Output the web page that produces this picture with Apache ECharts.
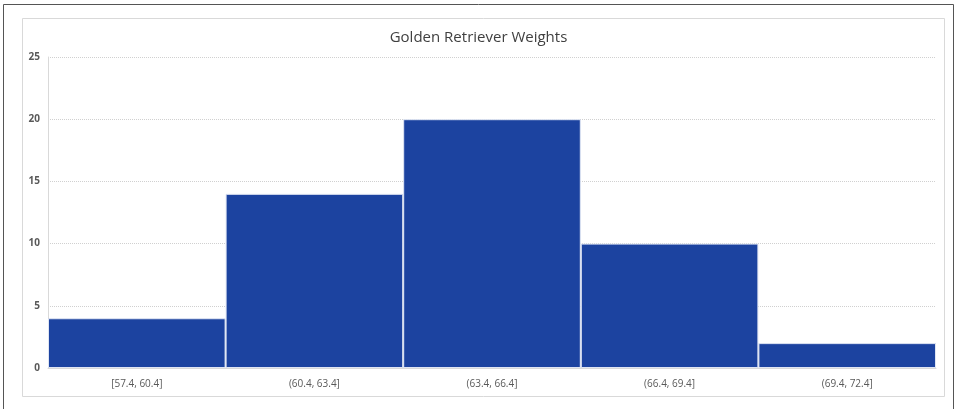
<!DOCTYPE html>
<html>
<head>
<meta charset="utf-8">
<script src="https://cdn.jsdelivr.net/npm/echarts@6/dist/echarts.min.js"></script>
<style>
  html, body { margin: 0; padding: 0; background: #fff; }
  #main { width: 957px; height: 409px; }
</style>
</head>
<body>
<div id="main"></div>
<script>
// histogram bins and counts
var bins = ['[57.4, 60.4]', '(60.4, 63.4]', '(63.4, 66.4]', '(66.4, 69.4]', '(69.4, 72.4]'];
var counts = [4, 14, 20, 10, 2];
var yTicks = [0, 5, 10, 15, 20, 25];

var chart = echarts.init(document.getElementById('main'));

var option = {
  animation: false,
  backgroundColor: '#fff',
  title: {
    text: 'Golden Retriever Weights',
    left: 'center',
    top: 25,
    textStyle: {
      fontFamily: 'Open Sans',
      fontSize: 15,
      fontWeight: 'normal',
      color: '#404040'
    }
  },
  graphic: [
    { // outer frame
      type: 'rect',
      shape: { x: 3.5, y: 4.5, width: 950, height: 410 },
      style: { fill: 'none', stroke: '#555', lineWidth: 1 },
      silent: true
    },
    { // chart area frame
      type: 'rect',
      shape: { x: 22.5, y: 18.5, width: 922, height: 378 },
      style: { fill: 'none', stroke: '#d9d9d9', lineWidth: 1 },
      silent: true
    }
  ],
  grid: {
    left: 48,
    right: 21,
    top: 57,
    bottom: 41
  },
  xAxis: {
    type: 'category',
    data: bins,
    axisTick: { show: false },
    axisLine: { lineStyle: { color: '#d9d9d9' } },
    axisLabel: {
      fontFamily: 'Open Sans',
      fontSize: 10,
      color: '#595959',
      margin: 11
    }
  },
  yAxis: {
    type: 'value',
    min: yTicks[0],
    max: yTicks[yTicks.length - 1],
    interval: 5,
    axisLine: { show: true, lineStyle: { color: '#d9d9d9' } },
    axisTick: { show: false },
    splitLine: { lineStyle: { color: '#d0d0d0', type: 'dotted', width: 1 } },
    axisLabel: {
      fontFamily: 'Open Sans',
      fontSize: 10,
      fontWeight: 'bold',
      color: '#595959',
      margin: 8
    }
  },
  series: [{
    type: 'bar',
    data: counts,
    barCategoryGap: '0%',
    itemStyle: {
      color: '#1c43a0',
      borderColor: '#dfe5f3',
      borderWidth: 1
    }
  }]
};

chart.setOption(option);
</script>
</body>
</html>
